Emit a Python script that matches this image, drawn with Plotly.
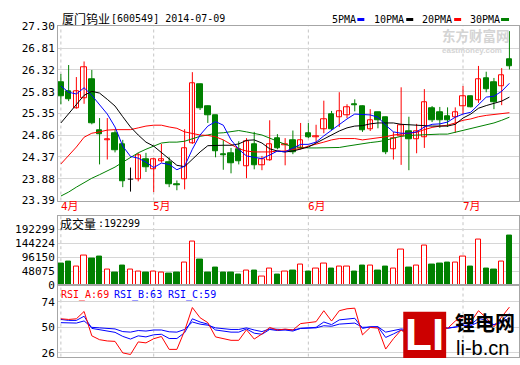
import plotly.graph_objects as go

W, H, L = 520, 365, 58

# ---------------- data ----------------
dates = (["2014-04-%02d" % d for d in [15, 16, 17, 18, 21, 22, 23, 24, 25, 28, 29, 30]]
         + ["2014-05-%02d" % d for d in [5, 6, 7, 8, 9, 12, 13, 14, 15, 16, 19, 20, 21, 22, 23, 26, 27, 28, 29, 30]]
         + ["2014-06-%02d" % d for d in [3, 4, 5, 6, 9, 10, 11, 12, 13, 16, 17, 18, 19, 20, 23, 24, 25, 26, 27, 30]]
         + ["2014-07-%02d" % d for d in [1, 2, 3, 4, 7, 8, 9]])

open_p = [26.04, 25.84, 25.47, 25.68, 26.10, 24.97, 24.74, 24.91, 24.65, 23.87,
          23.87, 24.32, 24.10, 24.26, 24.25, 23.76, 23.87, 24.68, 26.00, 25.50,
          25.30, 24.43, 24.44, 24.54, 24.16, 24.65, 24.18, 24.29, 24.78, 24.62,
          24.75, 24.57, 24.90, 24.81, 24.99, 25.32, 25.26, 25.30, 25.56, 25.51,
          24.99, 25.37, 25.26, 24.54, 24.84, 24.95, 24.77, 24.81, 25.45, 25.37,
          25.27, 25.26, 25.51, 25.73, 25.64, 26.14, 26.05, 25.96, 26.57]
high_p = [26.23, 26.43, 26.16, 26.51, 26.32, 25.24, 25.24, 24.97, 24.75, 24.13,
          24.46, 24.46, 24.34, 24.66, 24.36, 23.84, 24.99, 26.27, 26.01, 25.52,
          25.31, 24.75, 24.57, 24.72, 24.79, 24.93, 24.39, 25.19, 24.88, 24.79,
          24.96, 25.13, 25.13, 25.09, 25.63, 25.40, 25.82, 25.55, 25.66, 25.52,
          25.44, 25.38, 25.27, 24.93, 25.93, 25.27, 25.11, 25.89, 25.51, 25.49,
          25.48, 25.48, 25.96, 25.74, 26.41, 26.28, 26.14, 26.36, 27.19]
low_p = [25.55, 25.62, 25.45, 25.56, 25.10, 24.20, 24.31, 24.47, 23.69, 23.59,
         23.82, 24.03, 23.58, 24.24, 23.69, 23.62, 23.64, 24.66, 25.42, 25.13,
         24.36, 24.08, 24.00, 24.20, 23.89, 24.09, 24.07, 24.28, 24.54, 24.18,
         24.43, 24.54, 24.79, 24.68, 24.90, 24.97, 25.04, 25.24, 25.39, 24.93,
         24.95, 25.01, 24.43, 24.31, 24.19, 24.07, 24.45, 24.57, 25.15, 25.02,
         25.04, 24.91, 25.33, 25.48, 25.58, 25.82, 25.44, 25.53, 26.33]
close_p = [25.74, 25.66, 25.84, 26.38, 25.13, 24.88, 24.77, 24.52, 23.82, 23.87,
           24.41, 24.14, 24.32, 24.31, 23.76, 23.73, 24.56, 26.01, 25.47, 25.31,
           24.49, 24.41, 24.23, 24.27, 24.72, 24.18, 24.32, 24.66, 24.57, 24.66,
           24.47, 24.75, 24.81, 24.84, 25.21, 24.99, 25.40, 25.49, 25.53, 24.97,
           25.19, 25.19, 24.47, 24.79, 25.08, 24.77, 24.95, 25.60, 25.20, 25.19,
           25.19, 25.37, 25.73, 25.49, 26.10, 25.89, 25.60, 26.21, 26.40]

ma5 = [25.96, 25.82, 25.78, 25.92, 25.75, 25.53, 25.33, 25.04, 24.61, 24.38,
       24.34, 24.25, 24.13, 24.23, 24.20, 24.08, 24.16, 24.54, 24.86, 25.06,
       25.16, 25.08, 24.75, 24.54, 24.39, 24.36, 24.33, 24.41, 24.50, 24.48,
       24.57, 24.65, 24.65, 24.70, 24.84, 24.97, 25.10, 25.22, 25.33, 25.32,
       25.31, 25.26, 25.08, 24.93, 24.90, 24.90, 24.93, 25.04, 25.10, 25.11,
       25.15, 25.26, 25.33, 25.37, 25.53, 25.71, 25.73, 25.84, 26.02]
ma10 = [25.13, 25.33, 25.55, 25.75, 25.84, 25.80, 25.66, 25.51, 25.27, 25.04,
        24.86, 24.70, 24.61, 24.47, 24.31, 24.18, 24.15, 24.32, 24.48, 24.62,
        24.63, 24.63, 24.63, 24.66, 24.74, 24.75, 24.68, 24.55, 24.50, 24.48,
        24.50, 24.55, 24.59, 24.68, 24.77, 24.86, 24.95, 25.02, 25.06, 25.07,
        25.11, 25.13, 25.13, 25.13, 25.10, 25.09, 25.07, 25.06, 25.06, 25.06,
        25.06, 25.10, 25.24, 25.33, 25.46, 25.52, 25.57, 25.62, 25.71]
ma20 = [24.21, 24.40, 24.59, 24.81, 24.90, 24.93, 24.97, 24.98, 24.98, 24.98,
        25.02, 25.06, 25.08, 25.08, 25.04, 25.01, 24.93, 24.90, 24.86, 24.85,
        24.82, 24.75, 24.65, 24.55, 24.50, 24.48, 24.48, 24.48, 24.50, 24.50,
        24.54, 24.55, 24.61, 24.65, 24.70, 24.75, 24.78, 24.78, 24.78, 24.75,
        24.77, 24.79, 24.82, 24.86, 24.88, 24.90, 24.92, 24.98, 25.03, 25.06,
        25.08, 25.13, 25.19, 25.22, 25.27, 25.30, 25.32, 25.33, 25.36]
ma30 = [23.49, 23.58, 23.69, 23.79, 23.89, 23.97, 24.05, 24.14, 24.25, 24.36,
        24.46, 24.54, 24.61, 24.68, 24.70, 24.70, 24.72, 24.78, 24.83, 24.86,
        24.90, 24.91, 24.93, 24.96, 24.93, 24.90, 24.86, 24.79, 24.72, 24.65,
        24.60, 24.58, 24.57, 24.57, 24.57, 24.57, 24.58, 24.61, 24.64, 24.66,
        24.69, 24.71, 24.74, 24.79, 24.83, 24.85, 24.86, 24.87, 24.87, 24.88,
        24.88, 24.92, 24.96, 25.00, 25.04, 25.08, 25.13, 25.19, 25.26]

volume = [74580, 81070, 64850, 100520, 90800, 97280, 54050, 42160, 68100, 54050,
          47560, 42160, 45400, 42160, 38910, 42160, 76740, 151330, 87550, 42160,
          61610, 42160, 42160, 35670, 50800, 51880, 31350, 57290, 35670, 47560,
          51880, 71340, 48640, 57290, 74580, 58370, 63770, 63770, 48640, 68100,
          67020, 51880, 64850, 57290, 122140, 61610, 67020, 138360, 71340, 74580,
          77820, 76740, 99440, 64850, 157810, 58370, 55130, 83230, 171860]

rsi_a = [58.0, 57.4, 58.0, 64.9, 42.0, 38.4, 37.2, 36.8, 26.0, 24.5,
         36.3, 35.4, 39.3, 41.4, 29.3, 29.3, 46.8, 68.6, 59.0, 54.4,
         41.0, 39.3, 37.8, 37.8, 47.7, 39.0, 43.8, 49.9, 47.5, 48.4,
         47.5, 53.5, 54.4, 55.3, 65.6, 55.9, 65.6, 67.4, 68.0, 42.9,
         49.9, 49.3, 29.6, 39.3, 47.5, 42.0, 47.0, 60.0, 53.0, 50.0,
         49.0, 55.9, 60.0, 55.0, 65.6, 59.0, 50.5, 60.0, 69.0]
rsi_b = [57.4, 56.5, 56.5, 60.4, 49.0, 47.8, 46.8, 45.3, 41.5, 39.0,
         42.0, 41.0, 43.0, 43.5, 39.5, 39.5, 45.0, 58.0, 55.0, 53.0,
         47.5, 46.5, 45.5, 45.5, 48.5, 44.5, 43.5, 48.0, 47.0, 47.5,
         46.5, 49.0, 49.5, 50.0, 55.0, 52.5, 57.0, 58.0, 58.5, 49.0,
         50.5, 50.5, 40.5, 43.8, 47.5, 45.5, 47.0, 53.0, 50.5, 49.5,
         49.0, 50.5, 54.0, 52.5, 58.5, 56.5, 52.5, 56.0, 63.0]
rsi_c = [54.4, 54.0, 54.0, 56.0, 50.0, 49.5, 49.0, 48.5, 46.0, 45.5,
         47.0, 46.5, 47.5, 47.5, 45.8, 45.5, 48.0, 55.0, 53.0, 52.0,
         49.5, 48.5, 48.0, 48.0, 49.5, 47.5, 46.0, 48.5, 48.0, 48.2,
         47.5, 49.0, 49.2, 49.5, 51.5, 51.0, 53.0, 53.5, 54.0, 50.0,
         50.5, 50.5, 45.5, 47.0, 48.5, 47.5, 48.5, 51.0, 50.0, 49.5,
         49.5, 50.0, 52.0, 51.5, 55.0, 54.5, 52.5, 54.5, 59.0]

price_ticks = [23.39, 23.88, 24.37, 24.86, 25.35, 25.83, 26.32, 26.81, 27.30]
vol_ticks = [0, 48075, 96150, 144224, 192299]
rsi_ticks = [26, 50, 74]
last_volume = 192299
stock_name = "厦门钨业"
stock_code = "[600549] 2014-07-09"
ma_names = ["5PMA", "10PMA", "20PMA", "30PMA"]

# ---------------- styles ----------------
RED, GREEN, BLUE, BLACK = "#FF0000", "#008000", "#0000FF", "#000000"
GRID, FRAME = "#D6D6D6", "#A6A6A6"
MONO = "DejaVu Sans Mono"
CJK = "Noto Sans CJK SC"
n = len(dates)
idx = list(range(n))
XR = [-0.374, 59.24]


def yp(p):
    return 1 - p / H


def xp(p):
    return (p - L) / (W - L)


fig = go.Figure()

# ---- candles ----
up = [c > o for o, c in zip(open_p, close_p)]
dn = [c < o for o, c in zip(open_p, close_p)]
flat = [c == o for o, c in zip(open_p, close_p)]


def wick(sel):
    xs, ys = [], []
    for i in idx:
        if sel[i]:
            xs += [i, i, None]
            ys += [low_p[i], high_p[i], None]
    return xs, ys


for sel, col in [(up, RED), (dn, GREEN), (flat, BLACK)]:
    xs, ys = wick(sel)
    fig.add_trace(go.Scatter(x=xs, y=ys, mode="lines", line=dict(color=col, width=1),
                             hoverinfo="skip", xaxis="x", yaxis="y"))

BW = 0.7
fig.add_trace(go.Bar(x=[i for i in idx if up[i]],
                     y=[close_p[i] - open_p[i] for i in idx if up[i]],
                     base=[open_p[i] for i in idx if up[i]],
                     width=BW, marker=dict(color="white", line=dict(color=RED, width=1)),
                     xaxis="x", yaxis="y"))
fig.add_trace(go.Bar(x=[i for i in idx if dn[i]],
                     y=[open_p[i] - close_p[i] for i in idx if dn[i]],
                     base=[close_p[i] for i in idx if dn[i]],
                     width=BW, marker=dict(color=GREEN, line=dict(color=GREEN, width=1)),
                     xaxis="x", yaxis="y"))
dx, dy = [], []
for i in idx:
    if flat[i]:
        dx += [i - BW / 2, i + BW / 2, None]
        dy += [close_p[i], close_p[i], None]
fig.add_trace(go.Scatter(x=dx, y=dy, mode="lines", line=dict(color=BLACK, width=1),
                         xaxis="x", yaxis="y"))

# ---- moving averages ----
for ser, col in [(ma30, GREEN), (ma20, RED), (ma10, BLACK), (ma5, BLUE)]:
    fig.add_trace(go.Scatter(x=idx, y=ser, mode="lines", line=dict(color=col, width=1),
                             xaxis="x", yaxis="y"))

# ---- volume ----
vup = [c >= o for o, c in zip(open_p, close_p)]
fig.add_trace(go.Bar(x=[i for i in idx if vup[i]], y=[volume[i] for i in idx if vup[i]],
                     width=BW, marker=dict(color="white", line=dict(color=RED, width=1)),
                     xaxis="x2", yaxis="y2"))
fig.add_trace(go.Bar(x=[i for i in idx if not vup[i]], y=[volume[i] for i in idx if not vup[i]],
                     width=BW, marker=dict(color=GREEN, line=dict(color=GREEN, width=1)),
                     xaxis="x2", yaxis="y2"))

# ---- RSI ----
for ser, col in [(rsi_c, BLUE), (rsi_b, BLUE), (rsi_a, RED)]:
    fig.add_trace(go.Scatter(x=idx, y=ser, mode="lines", line=dict(color=col, width=1),
                             xaxis="x3", yaxis="y3"))

# ---- axes ----
xcommon = dict(range=XR, showticklabels=False, showgrid=False, zeroline=False,
               showline=True, mirror=True, linecolor=FRAME, linewidth=1, ticks="",
               fixedrange=True)
ycommon = dict(showgrid=True, gridcolor=GRID, gridwidth=1, zeroline=False, showline=True,
               mirror=True, linecolor=FRAME, linewidth=1, ticks="", fixedrange=True,
               tickfont=dict(family=MONO, size=11, color=BLACK))

vol_top_px, vol_bot_px, vol_max_px = 217.3, 289.5, 231.7
vol_range_max = vol_ticks[-1] * (vol_bot_px - vol_top_px) / (vol_bot_px - vol_max_px)
rsi_top_px, rsi_bot_px = 289.5, 363.5
rsi_pp = (359.7 - 306.7) / (rsi_ticks[-1] - rsi_ticks[0])
rsi_lo = rsi_ticks[0] - (rsi_bot_px - 359.7) / rsi_pp
rsi_hi = rsi_ticks[-1] + (306.7 - rsi_top_px) / rsi_pp

fig.update_layout(
    width=W, height=H, margin=dict(l=L, r=0, t=0, b=0),
    paper_bgcolor="white", plot_bgcolor="white", showlegend=False,
    barmode="overlay", bargap=0,
    xaxis=dict(anchor="y", **xcommon),
    xaxis2=dict(anchor="y2", matches="x", **xcommon),
    xaxis3=dict(anchor="y3", matches="x", **xcommon),
    yaxis=dict(domain=[yp(201.7), yp(21)], range=[price_ticks[0], price_ticks[-1]],
               tickvals=price_ticks, ticktext=["%.2f" % v for v in price_ticks], **ycommon),
    yaxis2=dict(domain=[yp(vol_bot_px), yp(vol_top_px)], range=[0, vol_range_max],
                tickvals=vol_ticks, ticktext=[str(v) for v in vol_ticks], **ycommon),
    yaxis3=dict(domain=[yp(rsi_bot_px), yp(rsi_top_px)], range=[rsi_lo, rsi_hi],
                tickvals=rsi_ticks, ticktext=[str(v) for v in rsi_ticks], **ycommon),
)

# ---- month separators ----
month_starts = [i for i in idx if i == 0 or dates[i][5:7] != dates[i - 1][5:7]]
shapes = []
for i in month_starts:
    for yr in ["y domain", "y2 domain", "y3 domain"]:
        shapes.append(dict(type="line", xref="x", yref=yr, x0=i, x1=i, y0=0, y1=1,
                           line=dict(color="#C4C4C4", width=1, dash="3px,3px"), layer="below"))

# ---- legend dashes ----
legend_x = [332, 374, 422, 470]
legend_dash = [(358, 365), (407, 414), (455, 462), (502, 510)]
for (a, b), col in zip(legend_dash, [BLUE, BLACK, RED, GREEN]):
    shapes.append(dict(type="line", xref="paper", yref="paper", x0=xp(a), x1=xp(b),
                       y0=yp(14), y1=yp(14), line=dict(color=col, width=3)))

# ---- logo box ----
shapes.append(dict(type="rect", xref="paper", yref="paper", x0=xp(404), x1=xp(447),
                   y0=yp(365), y1=yp(317), fillcolor="#CC0000", line=dict(width=0),
                   layer="above"))
fig.update_layout(shapes=shapes)

ann = []


def txt(x, y, s, size, color=BLACK, family=MONO, xanchor="left", bold=False):
    if bold:
        s = "<b>" + s + "</b>"
    ann.append(dict(x=xp(x), y=yp(y), xref="paper", yref="paper", text=s, showarrow=False,
                    xanchor=xanchor, yanchor="middle", borderpad=0,
                    font=dict(family=family, size=size, color=color)))


txt(61.5, 13, stock_name, 12, family=CJK)
txt(110, 13, stock_code, 10)
for xx, nm in zip(legend_x, ma_names):
    txt(xx, 14, nm, 10)
txt(59.5, 226, "成交量", 12, family=CJK)
txt(97, 226, ":" + str(last_volume), 10)
txt(60, 300, "RSI_A:%d" % round(rsi_a[-1]), 10, color=RED)
txt(113, 300, "RSI_B:%d" % round(rsi_b[-1]), 10, color=BLUE)
txt(167, 300, "RSI_C:%d" % round(rsi_c[-1]), 10, color=BLUE)
# month labels
for i in month_starts:
    ann.append(dict(x=i - 0.3, y=yp(208), xref="x", yref="paper",
                    text="%d月" % int(dates[i][5:7]), showarrow=False, xanchor="left",
                    yanchor="middle", font=dict(family=MONO + ", " + CJK, size=11, color=RED)))
# watermarks
txt(442, 30, "东方财富网", 13.5, color="#D4D4D4", family=CJK, bold=True)
txt(442, 46, "eastmoney.com", 8, color="#D4D4D4", family="Liberation Sans", bold=True)
txt(425.5, 341, "LI", 44, color="white", family="Liberation Sans", xanchor="center", bold=True)
txt(455, 328, "锂电网", 20, family=CJK, bold=True)
txt(456, 354.5, "li-b.cn", 20, family="Liberation Sans")
fig.update_layout(annotations=ann)

fig.write_html("out.html")
